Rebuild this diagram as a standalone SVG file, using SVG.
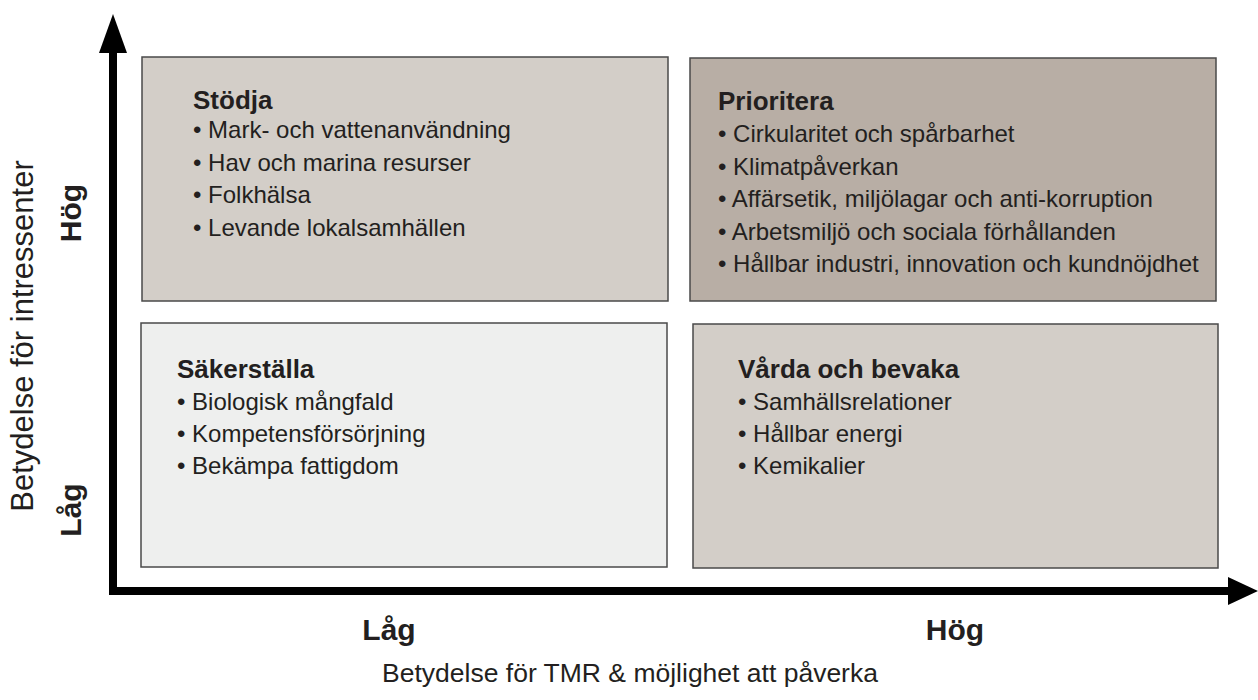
<svg xmlns="http://www.w3.org/2000/svg" width="1258" height="700" viewBox="0 0 1258 700">
<style>
.box{stroke:#4a4a4a;stroke-width:1.5}
.t{font-family:"Liberation Sans",Arial,sans-serif;fill:#231f20}
.h{font-size:26px;font-weight:bold}
.b{font-size:24px}
.ax{font-size:30px;font-weight:bold}
.lab{font-size:26.5px}
.vlab{font-size:31px}
</style>
<rect width="1258" height="700" fill="#ffffff"/>
<g id="connectors">
<path d="M113,52 V591 H1228" fill="none" stroke="#000" stroke-width="8"/>
<polygon points="113,14 99,53 127,53" fill="#000"/>
<polygon points="1258,591 1228,577 1228,605" fill="#000"/>
</g>
<g id="stodja">
<rect class="box" x="142" y="57" width="526" height="244" fill="#d3cec8"/>
<text class="t h" x="193" y="109">Stödja</text>
<text class="t b" x="193" y="138">• Mark- och vattenanvändning</text>
<text class="t b" x="193" y="170.5">• Hav och marina resurser</text>
<text class="t b" x="193" y="203">• Folkhälsa</text>
<text class="t b" x="193" y="235.5">• Levande lokalsamhällen</text>
</g>
<g id="prioritera">
<rect class="box" x="690" y="58" width="526" height="243" fill="#b8aea5"/>
<text class="t h" x="718" y="110">Prioritera</text>
<text class="t b" x="718" y="142">• Cirkularitet och spårbarhet</text>
<text class="t b" x="718" y="174.5">• Klimatpåverkan</text>
<text class="t b" x="718" y="207">• Affärsetik, miljölagar och anti-korruption</text>
<text class="t b" x="718" y="239.5">• Arbetsmiljö och sociala förhållanden</text>
<text class="t b" x="718" y="272">• Hållbar industri, innovation och kundnöjdhet</text>
</g>
<g id="sakerstalla">
<rect class="box" x="141" y="323" width="526" height="244" fill="#eeefee"/>
<text class="t h" x="177" y="378">Säkerställa</text>
<text class="t b" x="177" y="410">• Biologisk mångfald</text>
<text class="t b" x="177" y="442">• Kompetensförsörjning</text>
<text class="t b" x="177" y="474">• Bekämpa fattigdom</text>
</g>
<g id="varda">
<rect class="box" x="693" y="324" width="525" height="244" fill="#d3cec8"/>
<text class="t h" x="738" y="378">Vårda och bevaka</text>
<text class="t b" x="738" y="410">• Samhällsrelationer</text>
<text class="t b" x="738" y="442">• Hållbar energi</text>
<text class="t b" x="738" y="474">• Kemikalier</text>
</g>
<g id="axis-labels">
<text class="t ax" x="389" y="640" text-anchor="middle">Låg</text>
<text class="t ax" x="955" y="640" text-anchor="middle">Hög</text>
<text class="t lab" x="630" y="682" text-anchor="middle">Betydelse för TMR &amp; möjlighet att påverka</text>
<text class="t ax" transform="translate(81,213) rotate(-90)" text-anchor="middle">Hög</text>
<text class="t ax" transform="translate(81,510) rotate(-90)" text-anchor="middle">Låg</text>
<text class="t vlab" transform="translate(33,336) rotate(-90)" text-anchor="middle">Betydelse för intressenter</text>
</g>
</svg>
